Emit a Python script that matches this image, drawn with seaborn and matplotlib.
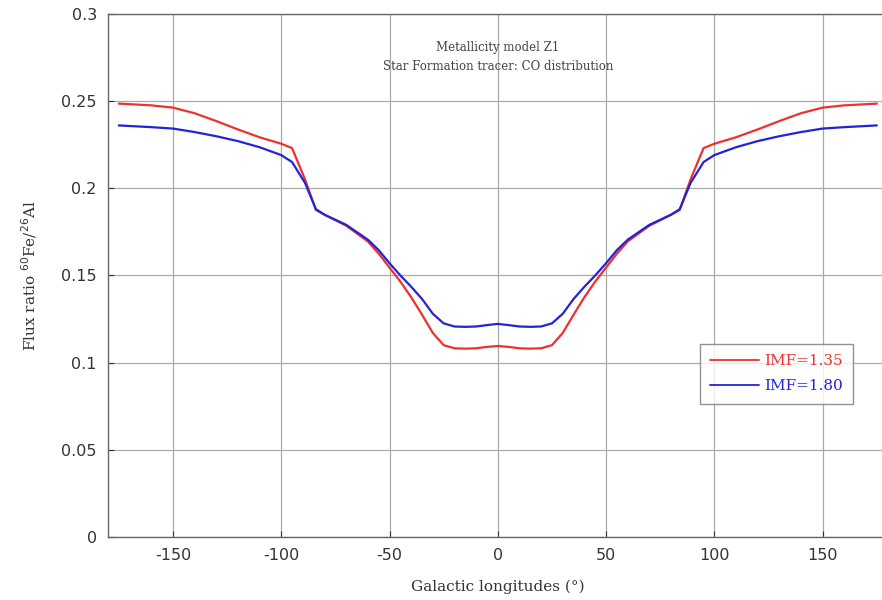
import numpy as np
import pandas as pd
import matplotlib.pyplot as plt
import seaborn as sns

# Galactic longitude samples (deg)
lon = [-175, -160, -150, -140, -130, -120, -110, -100, -95, -89, -84, -80, -70, -60, -55,
       -50, -45, -40, -35, -30, -25, -20, -15, -10, -5, 0,
       5, 10, 15, 20, 25, 30, 35, 40, 45, 50,
       55, 60, 70, 80, 84, 89, 95, 100, 110, 120, 130, 140, 150, 160, 175]

# Flux ratio 60Fe/26Al, IMF slope 1.35
ratio_135 = [0.2485, 0.2475, 0.2462, 0.2430, 0.2385, 0.2337, 0.2292, 0.2255, 0.2230, 0.2050,
             0.1875, 0.1848, 0.1785, 0.1695, 0.1625,
             0.1545, 0.1465, 0.1375, 0.1275, 0.1170, 0.1100, 0.1082, 0.1080, 0.1082, 0.1090, 0.1095,
             0.1090, 0.1082, 0.1080, 0.1082, 0.1100, 0.1170, 0.1275, 0.1375, 0.1465, 0.1545,
             0.1625, 0.1695, 0.1785, 0.1848, 0.1875, 0.2050, 0.2230, 0.2255, 0.2292, 0.2337,
             0.2385, 0.2430, 0.2462, 0.2475, 0.2485]

# Flux ratio 60Fe/26Al, IMF slope 1.80
ratio_180 = [0.2360, 0.2350, 0.2342, 0.2322, 0.2298, 0.2270, 0.2235, 0.2190, 0.2150, 0.2030,
             0.1880, 0.1848, 0.1790, 0.1705, 0.1645,
             0.1570, 0.1500, 0.1435, 0.1365, 0.1280, 0.1225, 0.1207, 0.1205, 0.1207, 0.1215, 0.1222,
             0.1215, 0.1207, 0.1205, 0.1207, 0.1225, 0.1280, 0.1365, 0.1435, 0.1500, 0.1570,
             0.1645, 0.1705, 0.1790, 0.1848, 0.1880, 0.2030, 0.2150, 0.2190, 0.2235, 0.2270,
             0.2298, 0.2322, 0.2342, 0.2350, 0.2360]

labels = ['IMF=1.35', 'IMF=1.80']
colors = ['#ee3030', '#2323d8']

df = pd.concat([
    pd.DataFrame({'lon': lon, 'ratio': ratio_135, 'model': labels[0]}),
    pd.DataFrame({'lon': lon, 'ratio': ratio_180, 'model': labels[1]}),
])

sns.set_style('ticks')
plt.rcParams['font.family'] = ['DejaVu Serif']

fig = plt.figure(figsize=(8.82, 6), dpi=100)
ax = fig.add_axes([0.1224, 0.105, 0.884, 0.872])

sns.lineplot(data=df, x='lon', y='ratio', hue='model', palette=colors,
             linewidth=1.6, sort=False, ax=ax)

ax.set_xlim(-180, 180)
ax.set_ylim(0, 0.3)
ax.set_xticks([-150, -100, -50, 0, 50, 100, 150])
ax.set_yticks([0, 0.05, 0.1, 0.15, 0.2, 0.25, 0.3])
ax.set_xticklabels(['-150', '-100', '-50', '0', '50', '100', '150'], family='DejaVu Sans')
ax.set_yticklabels(['0', '0.05', '0.1', '0.15', '0.2', '0.25', '0.3'], family='DejaVu Sans')
ax.tick_params(labelsize=11.5, colors='#333333', direction='in', length=4, pad=8)
ax.grid(True, color='#aaaaaa', linewidth=0.9)
for s in ax.spines.values():
    s.set_color('#666666')
    s.set_linewidth(1.0)

ax.set_xlabel('Galactic longitudes (°)', fontsize=11, color='#333333', labelpad=12)
ax.set_ylabel(r'Flux ratio $^{60}$Fe/$^{26}$Al', fontsize=11, color='#333333', labelpad=16)

ax.text(0, 0.2755, 'Metallicity model Z1\nStar Formation tracer: CO distribution',
        ha='center', va='center', fontsize=8.5, color='#444444', linespacing=1.6)

leg = ax.legend(loc='upper left', bbox_to_anchor=(0.749, 0.384), fontsize=11,
                frameon=True, fancybox=False, edgecolor='#777777', handlelength=3.2,
                borderpad=0.7, labelspacing=0.7, handletextpad=0.3)
leg.get_frame().set_linewidth(1.0)
for txt, c in zip(leg.get_texts(), colors):
    txt.set_color(c)
for ln in leg.get_lines():
    ln.set_linewidth(1.3)

fig.savefig('out.png', dpi=100)
